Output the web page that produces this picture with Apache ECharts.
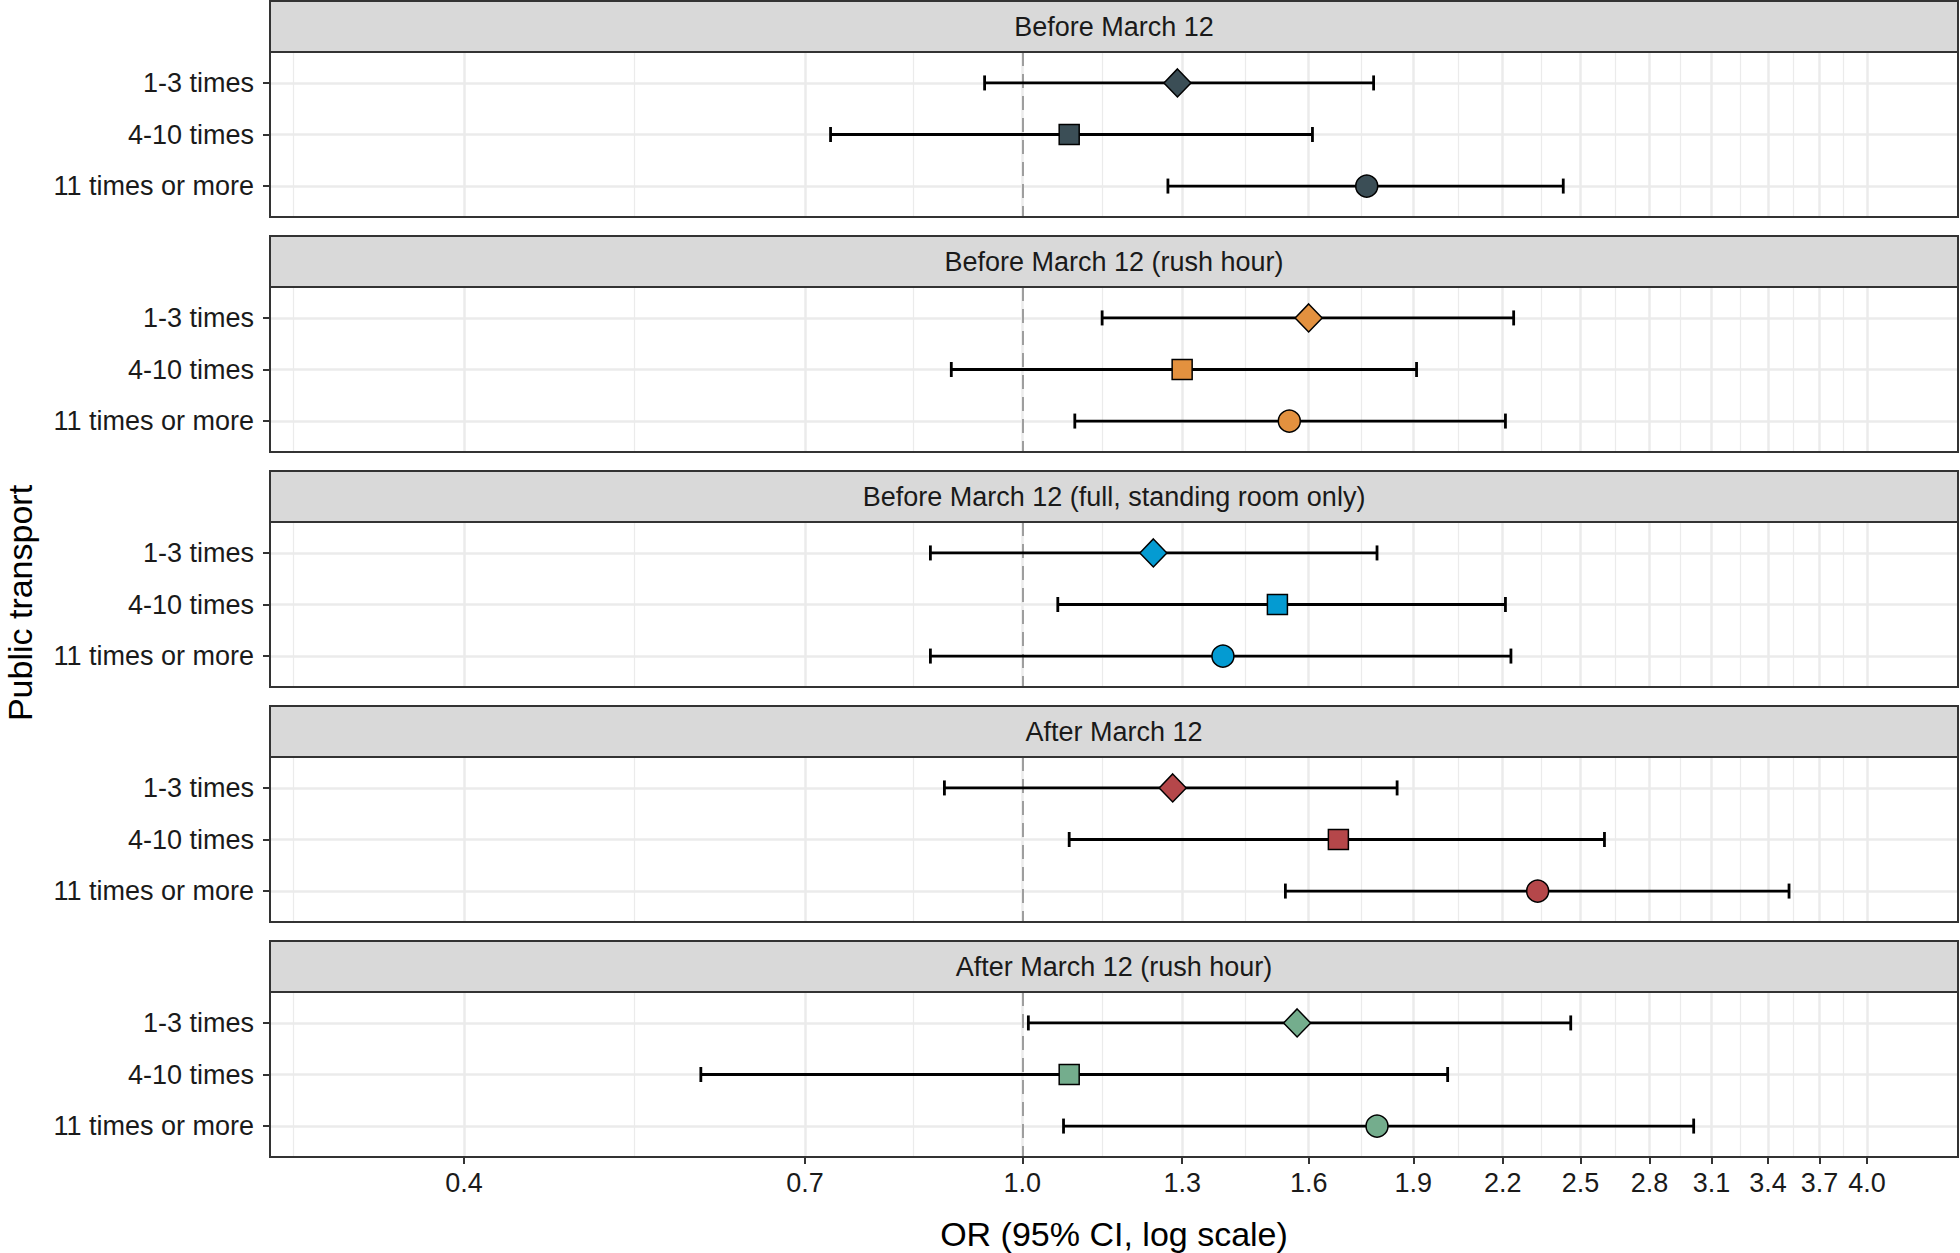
<!DOCTYPE html>
<html>
<head>
<meta charset="utf-8">
<script src="https://cdn.jsdelivr.net/npm/echarts@6/dist/echarts.min.js"></script>
<style>html,body{margin:0;padding:0;background:#fff}#chart{width:1960px;height:1253px}</style>
</head>
<body>
<div id="chart"></div>
<script>
// ---------- data ----------
const panelTitles = [
  'Before March 12',
  'Before March 12 (rush hour)',
  'Before March 12 (full, standing room only)',
  'After March 12',
  'After March 12 (rush hour)'
];
const categories = ['1-3 times', '4-10 times', '11 times or more'];

const estBefore = [1.29, 1.08, 1.76];
const lowBefore = [0.94, 0.73, 1.27];
const highBefore = [1.78, 1.61, 2.43];

const estRush = [1.60, 1.30, 1.55];
const lowRush = [1.14, 0.89, 1.09];
const highRush = [2.24, 1.91, 2.21];

const estFull = [1.24, 1.52, 1.39];
const lowFull = [0.86, 1.06, 0.86];
const highFull = [1.79, 2.21, 2.23];

const estAfter = [1.28, 1.68, 2.33];
const lowAfter = [0.88, 1.08, 1.54];
const highAfter = [1.85, 2.60, 3.52];

const estAfterRush = [1.57, 1.08, 1.79];
const lowAfterRush = [1.01, 0.59, 1.07];
const highAfterRush = [2.46, 2.01, 3.01];

const xTicks = [0.4, 0.7, 1.0, 1.3, 1.6, 1.9, 2.2, 2.5, 2.8, 3.1, 3.4, 3.7, 4.0];
const refValue = 1.0;

// ---------- styling ----------
const panelColors = ['#3B4E56', '#E3913F', '#049BD2', '#B5474A', '#74AD8D'];
const shapes = ['diamond', 'rect', 'circle'];
const shapeSizes = [[27, 28], [20, 20], [22, 22]];
const FONT = '"Liberation Sans", Arial, Helvetica, sans-serif';
const L = 270, W = 1688, H = 165, STRIP = 51;
const tops = [52, 287, 522, 757, 992];
const XMIN = 0.2909, XMAX = 4.645;

const panelEst = [estBefore, estRush, estFull, estAfter, estAfterRush];
const panelLow = [lowBefore, lowRush, lowFull, lowAfter, lowAfterRush];
const panelHigh = [highBefore, highRush, highFull, highAfter, highAfterRush];

// minor grid breaks: midpoints of major breaks in log space (ggplot style)
const logT = xTicks.map(Math.log10);
const lstep = logT[1] - logT[0];
const minorTicks = [Math.pow(10, logT[0] - lstep / 2)];
for (let i = 0; i < logT.length - 1; i++) minorTicks.push(Math.pow(10, (logT[i] + logT[i + 1]) / 2));

const grids = [], xAxes = [], yAxes = [], series = [], graphics = [];

for (let i = 0; i < 5; i++) {
  grids.push({left: L, top: tops[i], width: W, height: H, show: true, backgroundColor: '#fff', borderWidth: 0});
  const last = i === 4;
  xAxes.push({
    type: 'log', logBase: 10, gridIndex: i, min: XMIN, max: XMAX, position: 'bottom',
    axisLine: {show: false},
    axisTick: {show: last, customValues: xTicks, length: 7, lineStyle: {color: '#333', width: 2}},
    axisLabel: {show: last, customValues: xTicks, formatter: v => Number(v).toFixed(1),
      fontSize: 27, color: '#1a1a1a', margin: 12, fontFamily: FONT},
    splitLine: {show: true, lineStyle: {color: '#EBEBEB', width: 2.5}},
    name: last ? 'OR (95% CI, log scale)' : '',
    nameLocation: 'middle', nameGap: 60,
    nameTextStyle: {fontSize: 34, color: '#000', fontFamily: FONT}
  });
  xAxes.push({
    type: 'log', logBase: 10, gridIndex: i, min: XMIN, max: XMAX, position: 'top',
    axisLine: {show: false},
    axisTick: {show: false, customValues: minorTicks},
    axisLabel: {show: false, customValues: minorTicks},
    splitLine: {show: true, lineStyle: {color: '#EBEBEB', width: 1.2}}
  });
  yAxes.push({
    type: 'value', gridIndex: i, min: 0.4, max: 3.6, inverse: true,
    axisLine: {show: false},
    axisTick: {show: true, customValues: [1, 2, 3], length: 7, lineStyle: {color: '#333', width: 2}},
    axisLabel: {customValues: [1, 2, 3], formatter: v => categories[Math.round(v) - 1],
      fontSize: 27, color: '#1a1a1a', margin: 16, fontFamily: FONT},
    splitLine: {show: true, lineStyle: {color: '#EBEBEB', width: 2.5}}
  });

  series.push({
    type: 'custom', xAxisIndex: 2 * i, yAxisIndex: i, z: 3,
    encode: {x: [0, 1], y: 2},
    data: categories.map((c, j) => [panelLow[i][j], panelHigh[i][j], j + 1]),
    renderItem: function (params, api) {
      const y = api.value(2);
      const p1 = api.coord([api.value(0), y]);
      const p2 = api.coord([api.value(1), y]);
      const h = 7.5;
      const st = {stroke: '#000', lineWidth: 2.8};
      return {type: 'group', children: [
        {type: 'line', shape: {x1: p1[0], y1: p1[1], x2: p2[0], y2: p2[1]}, style: st},
        {type: 'line', shape: {x1: p1[0], y1: p1[1] - h, x2: p1[0], y2: p1[1] + h}, style: st},
        {type: 'line', shape: {x1: p2[0], y1: p2[1] - h, x2: p2[0], y2: p2[1] + h}, style: st}
      ]};
    },
    markLine: {
      silent: true, symbol: ['none', 'none'], label: {show: false}, z: 2,
      lineStyle: {color: '#9E9E9E', type: [14, 8], width: 2},
      data: [{xAxis: refValue}]
    }
  });
  series.push({
    type: 'scatter', xAxisIndex: 2 * i, yAxisIndex: i, z: 4,
    itemStyle: {color: panelColors[i], borderColor: '#000', borderWidth: 1.5, opacity: 1},
    data: categories.map((c, j) => ({
      value: [panelEst[i][j], j + 1], symbol: shapes[j], symbolSize: shapeSizes[j]
    }))
  });

  // strip
  graphics.push({type: 'rect', z: 90, shape: {x: L, y: tops[i] - STRIP, width: W, height: STRIP},
    style: {fill: '#D9D9D9', stroke: '#333', lineWidth: 2}});
  graphics.push({type: 'text', z: 95, x: L + W / 2, y: tops[i] - STRIP / 2,
    style: {text: panelTitles[i], font: '27px ' + FONT, fill: '#1a1a1a', align: 'center', verticalAlign: 'middle'}});
  // panel border
  graphics.push({type: 'rect', z: 100, shape: {x: L, y: tops[i], width: W, height: H},
    style: {fill: null, stroke: '#333', lineWidth: 2}});
}

graphics.push({type: 'text', z: 95, x: 20, y: 603, rotation: Math.PI / 2,
  style: {text: 'Public transport', font: '34px ' + FONT, fill: '#000', align: 'center', verticalAlign: 'middle'}});

const chart = echarts.init(document.getElementById('chart'), null, {renderer: 'svg'});
chart.setOption({
  animation: false,
  backgroundColor: '#fff',
  textStyle: {fontFamily: FONT},
  grid: grids, xAxis: xAxes, yAxis: yAxes, series: series,
  graphic: graphics
});
</script>
</body>
</html>
